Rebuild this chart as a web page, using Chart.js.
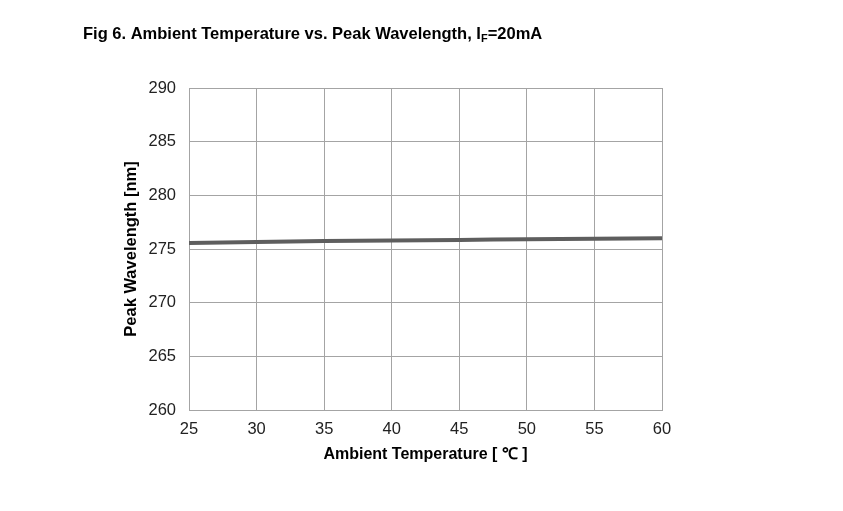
<!DOCTYPE html>
<html>
<head>
<meta charset="utf-8">
<script src="https://cdn.jsdelivr.net/npm/chart.js@4"></script>
<style>
  html, body { margin: 0; padding: 0; background: #fff; }
  #wrap { width: 843px; height: 511px; position: relative; }
</style>
</head>
<body>
<div id="wrap"><canvas id="wlChart" width="843" height="511"></canvas></div>
<script>
// data
const temps = [25, 30, 35, 40, 45, 50, 55, 60];
const peakWl = [275.55, 275.65, 275.75, 275.8, 275.85, 275.9, 275.95, 276.0];
const xTicks = [25, 30, 35, 40, 45, 50, 55, 60];
const yTicks = [260, 265, 270, 275, 280, 285, 290];

const titleMain = "Fig 6. Ambient Temperature vs. Peak Wavelength, I";
const titleSub = "F";
const titleTail = "=20mA";
const xTitle = "Ambient Temperature [ \u2103 ]";
const yTitle = "Peak Wavelength [nm]";

const FONT = "'Liberation Sans', Arial, sans-serif";
const GRID = "#a4a4a4";

// title with subscript, drawn on the canvas
const figTitle = {
  id: "figTitle",
  afterDraw(chart) {
    const c = chart.ctx;
    c.save();
    c.fillStyle = "#000";
    c.textBaseline = "alphabetic";
    let x = 83, y = 39;
    c.font = "bold 16.5px " + FONT;
    c.fillText(titleMain, x, y);
    x += c.measureText(titleMain).width;
    c.font = "bold 11px " + FONT;
    c.fillText(titleSub, x, y + 3);
    x += c.measureText(titleSub).width;
    c.font = "bold 16.5px " + FONT;
    c.fillText(titleTail, x, y);
    c.restore();
  }
};

const ctx = document.getElementById("wlChart").getContext("2d");

new Chart(ctx, {
  type: "line",
  data: {
    labels: temps,
    datasets: [{
      data: temps.map((t, i) => ({ x: t, y: peakWl[i] })),
      borderColor: "#5e5e5e",
      borderWidth: 4,
      pointRadius: 0,
      tension: 0.3,
      fill: false
    }]
  },
  plugins: [figTitle],
  options: {
    responsive: false,
    animation: false,
    layout: { padding: { top: 88, left: 122, right: 181, bottom: 43 } },
    plugins: {
      legend: { display: false },
      tooltip: { enabled: false }
    },
    scales: {
      x: {
        type: "linear",
        min: 25,
        max: 60,
        afterBuildTicks: (s) => { s.ticks = xTicks.map(v => ({ value: v })); },
        afterFit: (s) => { s.height = 58; },
        grid: { color: GRID, lineWidth: 1, drawTicks: false },
        border: { color: GRID, width: 1 },
        ticks: { color: "#222", font: { family: FONT, size: 16.5 }, padding: 10, maxRotation: 0 },
        title: { display: true, text: xTitle, color: "#000", font: { family: FONT, size: 16, weight: "bold" }, padding: { top: 4 } }
      },
      y: {
        min: 260,
        max: 290,
        afterBuildTicks: (s) => { s.ticks = yTicks.map(v => ({ value: v })); },
        afterFit: (s) => { s.width = 67; },
        grid: { color: GRID, lineWidth: 1, drawTicks: false },
        border: { color: GRID, width: 1 },
        ticks: { color: "#222", font: { family: FONT, size: 16.5 }, padding: 13 },
        title: { display: true, text: yTitle, color: "#000", font: { family: FONT, size: 16.5, weight: "bold" }, padding: 0 }
      }
    }
  }
});
</script>
</body>
</html>
